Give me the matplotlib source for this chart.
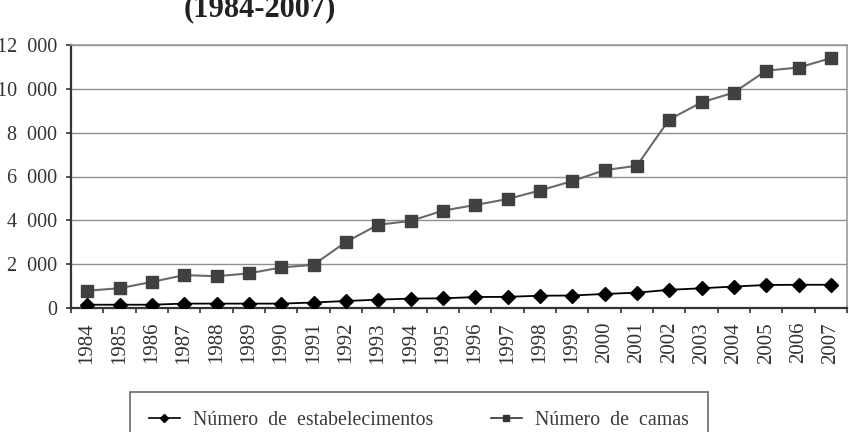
import matplotlib
matplotlib.use("Agg")
import matplotlib.pyplot as plt
from matplotlib.lines import Line2D

years = [str(y) for y in range(1984, 2008)]
estabelecimentos = [150, 150, 150, 200, 200, 200, 200, 250, 320, 380, 430, 440,
                    500, 510, 560, 570, 640, 700, 830, 900, 980, 1050, 1060, 1060]
camas = [790, 900, 1190, 1500, 1450, 1580, 1850, 1970, 3010, 3800, 3970, 4440,
         4700, 4970, 5360, 5790, 6290, 6490, 8600, 9380, 9830, 10830, 10970, 11400]
yticks = [0, 2000, 4000, 6000, 8000, 10000, 12000]
ytick_labels = ["0", "2  000", "4  000", "6  000", "8  000", "10  000", "12  000"]
title = "(1984-2007)"
labels = ["Número  de  estabelecimentos", "Número  de  camas"]

plt.rcParams['font.family'] = ['Liberation Serif', 'DejaVu Serif']

W, H = 849, 432
fig = plt.figure(figsize=(W / 100, H / 100), dpi=100)
ax = fig.add_axes([71 / W, 1 - 308 / H, (847 - 71) / W, (308 - 45) / H])

x = list(range(len(years)))
ax.plot(x, camas, color='#6a6a6a', lw=1.5, marker='s', markersize=8.5,
        markerfacecolor='#404040', markeredgecolor='#404040', zorder=3)
ax.plot(x, estabelecimentos, color='#000000', lw=1.3, marker='D', markersize=7.5,
        markerfacecolor='#000000', markeredgecolor='#000000', zorder=4)

ax.set_xlim(-0.5, len(years) - 0.5)
ax.set_ylim(0, 12000)
ax.set_yticks(yticks)
ax.set_yticklabels(ytick_labels)
ax.set_xticks(x)
ax.set_xticklabels(years, rotation=90)
ax.set_xticks([i - 0.5 for i in range(len(years) + 1)], minor=True)

ax.tick_params(axis='x', which='major', length=0, pad=10, labelsize=15, colors='#333333')
ax.tick_params(axis='x', which='minor', length=3.6, width=1.2, direction='out', color='#333333')
ax.tick_params(axis='y', length=3.6, width=1.2, direction='out', pad=6.5, labelsize=14.5,
               colors='#333333', labelcolor='#333333')

ax.grid(axis='y', color='#909090', lw=1.0)
ax.set_axisbelow(True)
for s in ['left', 'bottom']:
    ax.spines[s].set_color('#333333')
    ax.spines[s].set_linewidth(1.6)
for s in ['top', 'right']:
    ax.spines[s].set_color('#9a9a9a')
    ax.spines[s].set_linewidth(1.2)

fig.text(260 / W, 1 - 16 / H, title, ha='center', va='baseline',
         fontsize=22, fontweight='bold', color='#222222')

handles = [
    Line2D([0], [0], color='#000000', lw=1.2, marker='D', markersize=4.5),
    Line2D([0], [0], color='#333333', lw=1.2, marker='s', markersize=4.5),
]
leg = fig.legend(handles, labels, loc='upper left', ncol=2,
                 bbox_to_anchor=(130 / W, 1 - 392 / H), borderaxespad=0,
                 fontsize=14.3, frameon=True, fancybox=False, edgecolor='#444444',
                 handlelength=1.55, handletextpad=0.67, columnspacing=2.9,
                 borderpad=0.95)
leg.get_frame().set_linewidth(1.2)
for t in leg.get_texts():
    t.set_color('#3a3a3a')

fig.savefig("out.png", dpi=100)
